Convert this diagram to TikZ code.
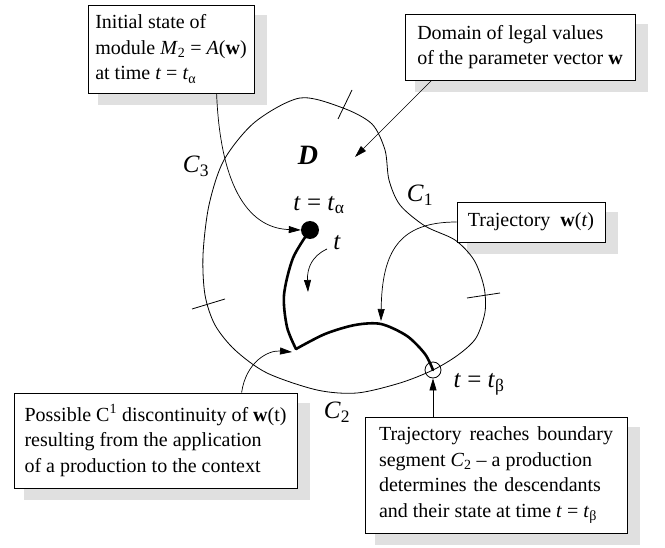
\documentclass[tikz,border=0pt]{standalone}
\usepackage{fontspec}
\setmainfont{Liberation Serif}
\usetikzlibrary{arrows.meta,backgrounds,calc}
\newcommand{\mysub}[1]{\textsubscript{#1}}
\newcommand{\vw}{\textbf{w}}
\tikzset{
  box/.style={draw, line width=0.8pt, fill=white, align=left, font=\fontsize{20}{25.5}\selectfont, inner sep=0pt},
  shadowfill/.style={fill=black!12},
  conn/.style={line width=0.7pt},
  arr/.style={conn, -{Triangle[length=12pt,width=7pt]}},
  lbl/.style={font=\fontsize{25}{29}\selectfont, inner sep=0pt},
  bound/.style={line width=0.8pt},
  traj/.style={line width=2.6pt, line cap=round, line join=round},
  tick/.style={line width=0.8pt},
}
\begin{document}
\begin{tikzpicture}[x=1pt,y=-1pt]
\useasboundingbox (0,0) rectangle (665,548);

% boxes
\node[box, minimum width=166pt, minimum height=88pt] (b1) at (171,49)
  {Initial state of\\module \textit{M}\mysub{2} = \textit{A}(\vw)\\at time \textit{t} = \textit{t}\mysub{α}};
\node[box, minimum width=230pt, minimum height=66pt] (b2) at (520,47)
  {Domain of legal values\\of the parameter vector \vw};
\node[box, minimum width=148pt, minimum height=40pt] (b3) at (531,222)
  {Trajectory\ \ \vw(\textit{t})};
\node[box, minimum width=283pt, minimum height=95pt] (b4) at (155.5,440.5)
  {Possible C\textsuperscript{1} discontinuity of \vw(t)\\resulting from the application\\of a production to the context};
\node[box, minimum width=262pt, minimum height=116pt] (b5) at (496,475)
  {\makebox[234pt][s]{Trajectory reaches boundary}\\segment \textit{C}\mysub{2} – a production\\\makebox[222pt][s]{determines the descendants}\\and their state at time \textit{t} = \textit{t}\mysub{β}};

% shadows
\begin{scope}[on background layer]
  \foreach \b in {b1,b2,b3,b4,b5}{
    \fill[shadowfill] ($(\b.south west)+(10,12)$) rectangle ($(\b.north east)+(13,10)$);
  }
\end{scope}

% domain boundary
\begin{scope}[on background layer]
\draw[bound] plot[smooth cycle] coordinates {
 (300,98) (343,108) (372,124) (385,150) (389,180) (400,205) (425,226)
 (455,240) (474,260) (484,287) (485,312) (476,338) (458,355) (433,370)
 (400,383) (357,393) (317,390) (267,373) (235,350) (215,325) (205,295)
 (203,255) (209,205) (224,160) (255,122)};
\draw[tick] (352,90) -- (338,119);
\draw[tick] (467,298) -- (500,293);
\draw[tick] (192,309) -- (225,299);
\end{scope}

% trajectory
\node[circle, fill=black, minimum size=18pt, inner sep=0pt] (alpha) at (310,230) {};
\node[circle, draw, line width=0.8pt, minimum size=16pt, inner sep=0pt] (beta) at (433,370) {};
\coordinate (kink) at (296,349);
\coordinate (peak) at (381,324);
\coordinate (peaktop) at (381,321);
\coordinate (kinkin) at (292,352);
\coordinate (Din) at (355,157);
\coordinate (ts) at (327,249);
\coordinate (te) at (308,292);
\begin{scope}[on background layer]
\draw[traj] plot[smooth] coordinates {(alpha.center) (293,258) (284,295) (287,327) (kink)};
\draw[traj] plot[smooth] coordinates {(kink) (325,334) (355,325) (peak) (407,336) (425,354) (beta.center)};
\end{scope}

% connectors
\draw[arr] ($(b1.south west)+(129,0)$) .. controls (220,180) and (245,228) .. (alpha.west);
\draw[arr] ($(b2.south west)+(27,0)$) -- (Din);
\draw[arr] (b3.west) .. controls (400,222) and (382,250) .. (peaktop);
\draw[arr] ($(b4.north west)+(228,0)$) .. controls (246,362) and (268,350) .. (kinkin);
\draw[arr] (beta.south |- b5.north) -- (beta.south);
\draw[arr] (ts) .. controls (312,256) and (307,268) .. (te);

% labels
\node[font=\fontsize{28}{32}\selectfont\bfseries\itshape, inner sep=0pt] (D) at (308,155) {D};
\node[lbl] (C3) at (196,166) {\textit{C}\mysub{3}};
\node[lbl] (C1) at (420,195) {\textit{C}\mysub{1}};
\node[lbl] (C2) at (337,412) {\textit{C}\mysub{2}};
\node[lbl] (ta) at (319,205) {\textit{t} = \textit{t}\mysub{α}};
\node[lbl] (tb) at (479,384) {\textit{t} = \textit{t}\mysub{β}};
\node[lbl] (tl) at (337,243) {\textit{t}};
\end{tikzpicture}
\end{document}
